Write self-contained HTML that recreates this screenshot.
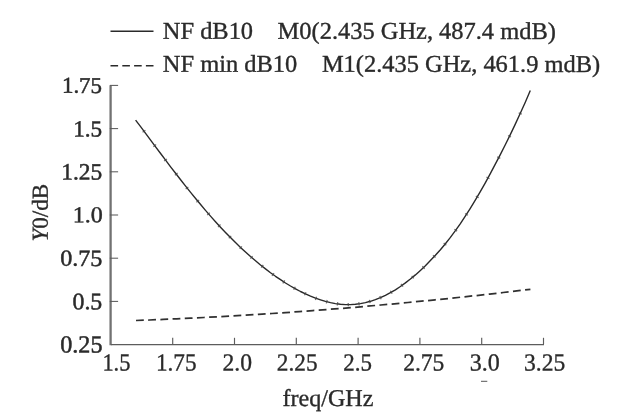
<!DOCTYPE html>
<html lang="en"><head><meta charset="utf-8"><title>NF plot</title>
<style>
html,body{margin:0;padding:0;background:#fff;}
body{width:633px;height:420px;overflow:hidden;}
svg{display:block;}
#plot{filter:blur(0.4px);}
text{font-family:"Liberation Serif",serif;fill:#2a2a2a;stroke:#2a2a2a;}
.lg{stroke-width:.38px;}
.yt{stroke-width:.5px;}
.xt{stroke-width:.32px;}
.al{stroke-width:.35px;}
</style></head><body>
<svg width="633" height="420" viewBox="0 0 633 420">
<rect width="633" height="420" fill="#fff"/>
<g id="plot">
<!-- legend -->
<line x1="110.5" y1="31.3" x2="153.5" y2="31.3" stroke="#2a2a2a" stroke-width="1.5"/>
<line x1="110.5" y1="65.8" x2="153.5" y2="65.8" stroke="#2a2a2a" stroke-width="1.5" stroke-dasharray="7.6,4.2"/>
<text class="lg" transform="translate(162.8,38.7) rotate(0.05) scale(1,0.985)" font-size="24.45">NF dB10</text>
<text class="lg" transform="translate(277.6,38.7) rotate(0.05) scale(1,0.985)" font-size="24.45">M0(2.435 GHz, 487.4 mdB)</text>
<text class="lg" transform="translate(162.8,71.7) rotate(0.05) scale(1,0.985)" font-size="24.45">NF min dB10</text>
<text class="lg" transform="translate(321.9,71.7) rotate(0.05) scale(1,0.985)" font-size="24.45">M1(2.435 GHz, 461.9 mdB)</text>
<!-- axes -->
<line x1="110.6" y1="85.4" x2="110.6" y2="345.2" stroke="#727272" stroke-width="2.3"/>
<line x1="110.9" y1="344.7" x2="544.0" y2="344.7" stroke="#5c5c5c" stroke-width="1.25"/>
<line x1="109.8" y1="85.40" x2="118.1" y2="85.40" stroke="#5a5a5a" stroke-width="1.05"/>
<text class="yt" transform="translate(102.05,92.9) rotate(0.05) scale(1,0.989)" font-size="22.95" text-anchor="end">1.75</text>
<line x1="109.8" y1="128.60" x2="118.1" y2="128.60" stroke="#5a5a5a" stroke-width="1.05"/>
<text class="yt" transform="translate(102.18,136.5) rotate(0.05) scale(1,0.992)" font-size="23.18" text-anchor="end">1.5</text>
<line x1="109.8" y1="171.80" x2="118.1" y2="171.80" stroke="#5a5a5a" stroke-width="1.05"/>
<text class="yt" transform="translate(102.18,179.5) rotate(0.05) scale(1,0.999)" font-size="23.4" text-anchor="end">1.25</text>
<line x1="109.8" y1="215.00" x2="118.1" y2="215.00" stroke="#5a5a5a" stroke-width="1.05"/>
<text class="yt" transform="translate(102.75,222.3) rotate(0.05) scale(1,0.94)" font-size="24.05" text-anchor="end">1.0</text>
<line x1="109.8" y1="258.20" x2="118.1" y2="258.20" stroke="#5a5a5a" stroke-width="1.05"/>
<text class="yt" transform="translate(102.37,265.9) rotate(0.05) scale(1,0.959)" font-size="24.14" text-anchor="end">0.75</text>
<line x1="109.8" y1="301.40" x2="118.1" y2="301.40" stroke="#5a5a5a" stroke-width="1.05"/>
<text class="yt" transform="translate(102.25,309.3) rotate(0.05) scale(1,0.992)" font-size="23.82" text-anchor="end">0.5</text>
<text class="yt" transform="translate(102.5,352.5) rotate(0.05) scale(1,1.019)" font-size="24.14" text-anchor="end">0.25</text>
<text class="xt" transform="translate(116.42,370.45) rotate(0.05) scale(1,1.091)" font-size="22.42" text-anchor="middle">1.5</text>
<line x1="172.7" y1="344.3" x2="172.7" y2="337.8" stroke="#5c5c5c" stroke-width="1.15"/>
<text class="xt" transform="translate(176.25,370.45) rotate(0.05) scale(1,1.054)" font-size="23.22" text-anchor="middle">1.75</text>
<line x1="234.5" y1="344.3" x2="234.5" y2="337.8" stroke="#5c5c5c" stroke-width="1.15"/>
<text class="xt" transform="translate(237.3,370.45) rotate(0.05) scale(1,1.036)" font-size="23.62" text-anchor="middle">2.0</text>
<line x1="296.3" y1="344.3" x2="296.3" y2="337.8" stroke="#5c5c5c" stroke-width="1.15"/>
<text class="xt" transform="translate(297.18,370.45) rotate(0.05) scale(1,1.051)" font-size="23.3" text-anchor="middle">2.25</text>
<line x1="358.1" y1="344.3" x2="358.1" y2="337.8" stroke="#5c5c5c" stroke-width="1.15"/>
<text class="xt" transform="translate(357.68,370.45) rotate(0.05) scale(1,1.065)" font-size="22.98" text-anchor="middle">2.5</text>
<line x1="419.9" y1="344.3" x2="419.9" y2="337.8" stroke="#5c5c5c" stroke-width="1.15"/>
<text class="xt" transform="translate(423.8,370.45) rotate(0.05) scale(1,1.04)" font-size="23.52" text-anchor="middle">2.75</text>
<line x1="481.7" y1="344.3" x2="481.7" y2="337.8" stroke="#5c5c5c" stroke-width="1.15"/>
<text class="xt" transform="translate(484.75,370.45) rotate(0.05) scale(1,1.018)" font-size="24.04" text-anchor="middle">3.0</text>
<line x1="543.5" y1="344.3" x2="543.5" y2="337.8" stroke="#5c5c5c" stroke-width="1.15"/>
<text class="xt" transform="translate(544.65,370.45) rotate(0.05) scale(1,1.037)" font-size="23.6" text-anchor="middle">3.25</text>
<text class="al" transform="translate(327.9,406.0) rotate(0.05)" font-size="24.1" text-anchor="middle">freq/GHz</text>
<line x1="481.0" y1="381.3" x2="487.3" y2="381.3" stroke="#555" stroke-width="1"/>
<text class="al" transform="translate(47.7,212.7) rotate(-89.95) scale(1,0.99)" font-size="23.1" text-anchor="middle"><tspan font-style="italic">Y</tspan>0/dB</text>
<!-- curves -->
<path d="M135.6,120.1 L140.6,126.7 L145.6,133.4 L150.6,140.1 L155.6,146.8 L160.6,153.5 L165.6,160.1 L170.6,166.8 L175.6,173.3 L180.6,179.8 L185.6,186.1 L190.6,192.4 L195.6,198.5 L200.6,204.5 L205.5,210.4 L210.5,216.1 L215.5,221.7 L220.5,227.2 L225.5,232.5 L230.5,237.6 L235.5,242.6 L240.5,247.4 L245.5,252.0 L250.5,256.5 L255.5,260.8 L260.5,265.0 L265.5,268.9 L270.5,272.7 L275.5,276.3 L280.5,279.7 L285.5,283.0 L290.5,286.0 L295.5,288.8 L300.5,291.5 L305.5,293.9 L310.5,296.1 L315.5,298.1 L320.5,299.8 L325.5,301.4 L330.5,302.6 L335.4,303.6 L340.4,304.3 L345.4,304.6 L350.4,304.6 L355.4,304.3 L360.4,303.6 L365.4,302.6 L370.4,301.3 L375.4,299.6 L380.4,297.6 L385.4,295.3 L390.4,292.7 L395.4,289.8 L400.4,286.5 L405.4,282.9 L410.4,279.0 L415.4,274.9 L420.4,270.4 L425.4,265.7 L430.4,260.6 L435.4,255.3 L440.4,249.7 L445.4,243.7 L450.4,237.4 L455.4,230.7 L460.4,223.6 L465.3,216.2 L470.3,208.3 L475.3,200.1 L480.3,191.6 L485.3,182.8 L490.3,173.6 L495.3,164.2 L500.3,154.6 L505.3,144.7 L510.3,134.6 L515.3,124.1 L520.3,113.3 L525.3,102.2 L530.3,90.5" fill="none" stroke="#2a2a2a" stroke-width="1.4" stroke-linejoin="round"/>
<path d="M145.4,130.2 L142.6,132.2 M156.1,144.6 L153.4,146.7 M166.9,159.0 L164.1,161.1 M177.6,173.1 L174.9,175.2 M188.3,186.9 L185.7,189.0 M199.1,200.1 L196.4,202.2 M209.8,212.7 L207.2,214.9 M220.5,224.6 L218.0,226.9 M231.2,235.9 L228.8,238.2 M241.9,246.4 L239.6,248.8 M252.6,256.1 L250.4,258.6 M263.3,265.0 L261.2,267.7 M274.0,273.1 L272.0,275.9 M284.7,280.4 L282.8,283.3 M295.3,286.8 L293.7,289.8 M306.0,292.2 L304.5,295.3 M316.6,296.7 L315.4,299.9 M327.2,300.0 L326.3,303.3 M337.7,302.2 L337.3,305.5 M348.2,302.9 L348.3,306.3 M358.8,302.1 L359.2,305.5 M369.3,299.8 L370.2,303.1 M379.8,296.0 L381.2,299.2 M390.4,290.7 L392.1,293.7 M401.0,284.0 L403.0,286.7 M411.7,275.8 L413.8,278.4 M422.3,266.2 L424.7,268.7 M433.0,255.3 L435.5,257.6 M443.7,243.0 L446.3,245.2 M454.4,229.2 L457.1,231.1 M465.1,213.5 L467.9,215.3 M475.8,196.0 L478.7,197.7 M486.5,177.1 L489.5,178.7 M497.2,156.8 L500.3,158.4 M508.0,135.5 L511.0,137.0 M518.7,112.8 L521.8,114.2" fill="none" stroke="#444" stroke-width="1.3" opacity="0.75"/>
<path d="M136.0,320.5 L149.6,320.0 L163.2,319.4 L176.8,318.8 L190.4,318.2 L204.0,317.5 L217.6,316.8 L231.2,316.0 L244.8,315.2 L258.4,314.4 L272.0,313.5 L285.6,312.6 L299.2,311.6 L312.8,310.6 L326.4,309.6 L340.0,308.5 L353.6,307.4 L367.2,306.2 L380.8,305.0 L394.4,303.8 L408.0,302.5 L421.6,301.2 L435.2,299.8 L448.8,298.5 L462.4,297.0 L476.0,295.6 L489.6,294.1 L503.2,292.5 L516.8,290.9 L530.4,289.3" fill="none" stroke="#303030" stroke-width="1.75" stroke-dasharray="7.8,4.4"/>
</g>
</svg>
</body></html>
